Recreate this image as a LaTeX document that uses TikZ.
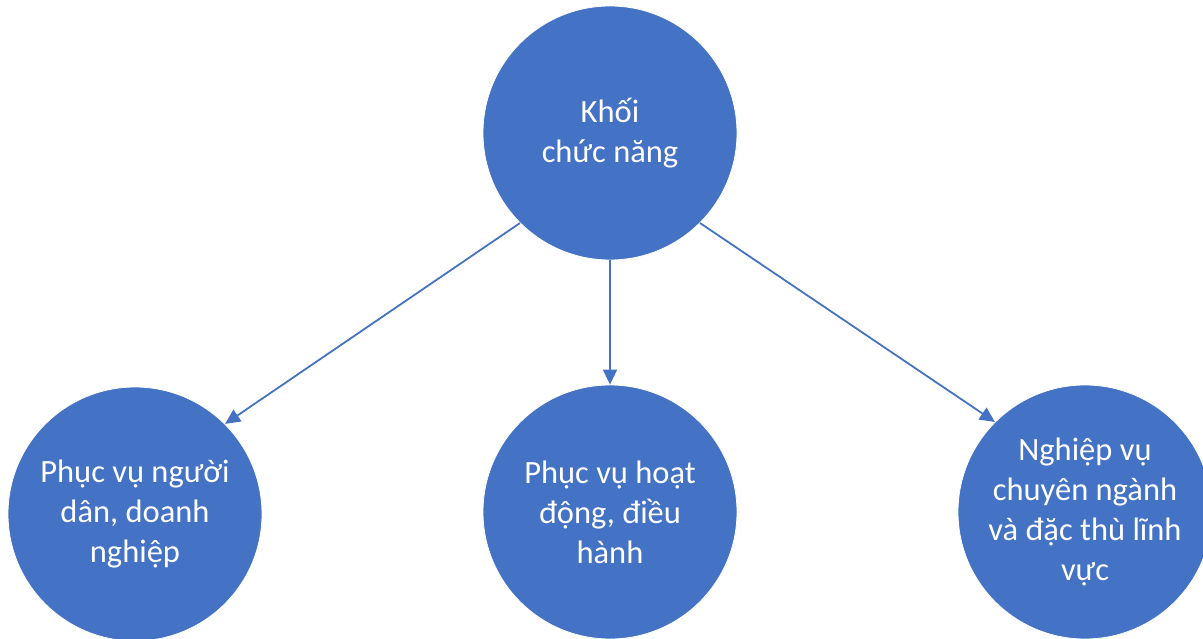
\documentclass[tikz,border=0pt]{standalone}
\usepackage{fontspec}
\setmainfont{Carlito}
\usetikzlibrary{arrows.meta}
\definecolor{cblue}{HTML}{4472C4}
\tikzset{
  bubble/.style={circle, fill=cblue, draw=white, line width=0.8pt, minimum size=254pt, inner sep=0pt,
    text=white, align=center, font=\fontsize{32.5}{40}\selectfont},
  link/.style={draw=cblue, line width=1.8pt, -{Triangle[length=15pt,width=14pt]}}
}
\begin{document}
\begin{tikzpicture}[x=1pt,y=1pt]
\useasboundingbox (0,0) rectangle (1203,638);
\clip (0,0) rectangle (1203,638);
\node[bubble] (top) at (610,505) {Khối\\chức năng};
\node[bubble] (left) at (135,124) {Phục vụ người\\dân, doanh\\nghiệp};
\node[bubble] (mid) at (610,126) {Phục vụ hoạt\\động, điều\\hành};
\node[bubble] (right) at (1085,126) {Nghiệp vụ\\chuyên ngành\\và đặc thù lĩnh\\vực};
\draw[link] (top.225) -- (left.45);
\draw[link] (top.south) -- (mid.north);
\draw[link] (top.-45) -- (right.135);
\end{tikzpicture}
\end{document}
